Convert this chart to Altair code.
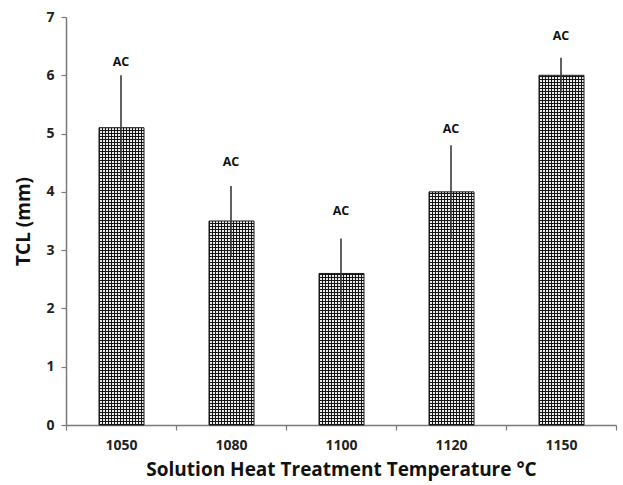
import altair as alt
import pandas as pd

temperatures = ["1050", "1080", "1100", "1120", "1150"]
tcl_mean = [5.1, 3.5, 2.6, 4.0, 6.0]
tcl_err = [0.9, 0.6, 0.6, 0.8, 0.3]
group_label = ["AC", "AC", "AC", "AC", "AC"]
label_pos = [6.23, 4.52, 3.67, 5.08, 6.67]  # height (mm) of each group label

df = pd.DataFrame({
    "temp": temperatures,
    "tcl": tcl_mean,
    "zero": [0.0] * len(temperatures),
    "lo": [m - e for m, e in zip(tcl_mean, tcl_err)],
    "hi": [m + e for m, e in zip(tcl_mean, tcl_err)],
    "label": group_label,
    "label_y": label_pos,
})

FONT = "Open Sans"
AXIS_GREY = "#7a7a7a"
BAR_W = 45
NUDGE = 0.5  # puts the bar edges on whole pixels
CELL = 3.0  # pixel pitch of the checked fill
LINE = 1.0  # line thickness inside a cell

DARK, LIGHT = "#141414", "#ececec"

# Vertical lines of the checked fill: hard-stop gradient across the bar width
n_cols = round(BAR_W / CELL)
col_stops = []
for k in range(n_cols):
    a, b, c = k / n_cols, (k + LINE / CELL) / n_cols, (k + 1) / n_cols
    col_stops += [
        {"offset": a, "color": DARK},
        {"offset": b, "color": DARK},
        {"offset": b, "color": LIGHT},
        {"offset": c, "color": LIGHT},
    ]
col_fill = {"gradient": "linear", "x1": 0, "y1": 0, "x2": 1, "y2": 0, "stops": col_stops}

x = alt.X(
    "temp:N",
    sort=temperatures,
    scale=alt.Scale(paddingInner=0, paddingOuter=0),
    axis=alt.Axis(
        title="Solution Heat Treatment Temperature \u00b0C",
        labelAngle=0,
        tickBand="extent",
        tickSize=5,
        labelPadding=8,
        titlePadding=8,
    ),
)
x_plain = alt.X("temp:N", sort=temperatures)

y_scale = alt.Scale(domain=[0, 7], nice=False)

bars = alt.Chart(df).mark_bar(
    width=BAR_W, xOffset=NUDGE, fill=col_fill, strokeWidth=0
).encode(
    x=x,
    y=alt.Y(
        "tcl:Q",
        scale=y_scale,
        axis=alt.Axis(
            title="TCL (mm)",
            values=[0, 1, 2, 3, 4, 5, 6, 7],
            format="d",
            tickSize=5,
            labelPadding=7,
            titlePadding=12,
            grid=False,
        ),
    ),
)

# Horizontal lines of the checked fill: a bar-wide dashed rule
cross = alt.Chart(df).mark_rule(
    color=DARK,
    strokeWidth=BAR_W,
    xOffset=NUDGE,
    strokeDash=[LINE, CELL - LINE],
    strokeCap="butt",
).encode(
    x=x_plain,
    y=alt.Y("zero:Q", scale=y_scale),
    y2="tcl:Q",
)

outline = alt.Chart(df).mark_bar(
    width=BAR_W, xOffset=NUDGE, fillOpacity=0, stroke="#1a1a1a", strokeWidth=1
).encode(x=x_plain, y=alt.Y("tcl:Q", scale=y_scale))

errors = alt.Chart(df).mark_rule(color="#3a3a3a", strokeWidth=1.6).encode(
    x=x_plain,
    y=alt.Y("lo:Q", scale=y_scale),
    y2="hi:Q",
)

labels = alt.Chart(df).mark_text(
    font=FONT, fontWeight="bold", fontSize=12.5, color="#111111"
).encode(
    x=x_plain,
    y=alt.Y("label_y:Q", scale=y_scale),
    text="label:N",
)

chart = (
    alt.layer(bars, cross, outline, errors, labels)
    .properties(
        width=550,
        height=408,
        autosize=alt.AutoSizeParams(type="none"),
        padding={"left": 66, "top": 17, "right": 7, "bottom": 60},
    )
    .configure_view(stroke=None)
    .configure_axis(
        domainColor=AXIS_GREY,
        domainWidth=1.5,
        tickColor=AXIS_GREY,
        tickWidth=1.2,
        labelFont=FONT,
        labelFontSize=14,
        labelFontWeight="bold",
        labelColor="#222222",
        titleFont=FONT,
        titleFontSize=19,
        titleFontWeight="bold",
        titleColor="#111111",
        grid=False,
    )
)

chart.save("out.html", embed_options={"renderer": "svg", "actions": False})
